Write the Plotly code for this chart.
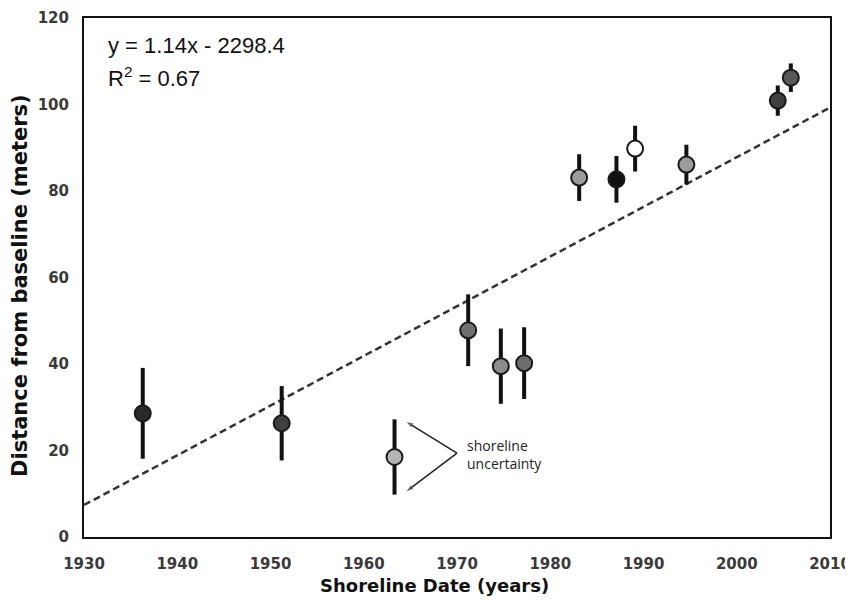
import plotly.graph_objects as go

# Data
years = [1936.3, 1951.2, 1963.3, 1971.2, 1974.7, 1977.2, 1983.1, 1987.1, 1989.1, 1994.6, 2004.4, 2005.8]
distance = [28.6, 26.3, 18.5, 47.8, 39.5, 40.2, 83.1, 82.7, 89.8, 86.1, 100.9, 106.2]
uncertainty = [10.5, 8.6, 8.7, 8.3, 8.7, 8.3, 5.4, 5.4, 5.3, 4.6, 3.5, 3.3]
marker_colors = ["#2b2b2b", "#404040", "#b4b4b4", "#707070", "#8c8c8c", "#6c6c6c",
                 "#9a9a9a", "#111111", "#ffffff", "#9c9c9c", "#404040", "#585858"]
trend_x = [1930, 2010]
trend_y = [7.4, 99.3]
x_ticks = [1930, 1940, 1950, 1960, 1970, 1980, 1990, 2000, 2010]
y_ticks = [0, 20, 40, 60, 80, 100, 120]

# callout geometry (vertex, upper end, lower end) in data units
callout_x = [1970.0, 1964.6, 1964.6]
callout_y = [19.4, 26.6, 10.6]

# The page body adds an 8px margin, so the figure is drawn 8px in from the corner.
OFF = 8
W, H = 853 - OFF, 608 - OFF
plot_left, plot_right, plot_top, plot_bottom = 84, 830, 18, 537
L = plot_left - OFF
R = W - (plot_right - OFF)
T = plot_top - OFF
B = H - (plot_bottom - OFF)
PW, PH = W - L - R, H - T - B


def px(x):
    return (x - OFF - L) / PW


def py(y):
    return 1 - (y - OFF - T) / PH


fig = go.Figure()

fig.add_trace(go.Scatter(
    x=trend_x, y=trend_y, mode="lines",
    line=dict(color="#333333", width=2.5, dash="7px,4px"),
    hoverinfo="skip", showlegend=False))

fig.add_trace(go.Scatter(
    x=years, y=distance, mode="markers",
    error_y=dict(type="data", array=uncertainty, visible=True,
                 color="#111111", thickness=4, width=0),
    marker=dict(size=16, color=marker_colors,
                line=dict(color="#1a1a1a", width=2)),
    showlegend=False))

# callout arrows
for i in (1, 2):
    fig.add_trace(go.Scatter(
        x=[callout_x[0], callout_x[i]], y=[callout_y[0], callout_y[i]],
        mode="lines+markers",
        line=dict(color="#222", width=1.5),
        marker=dict(symbol=["circle", "arrow"], size=[1, 7], color="#222",
                    angleref="previous", line=dict(width=0)),
        hoverinfo="skip", showlegend=False))

font_main = "Liberation Sans, Arial, sans-serif"
font_ticks = "DejaVu Sans, sans-serif"

# Equation text
fig.add_annotation(x=px(106), y=py(45), xref="paper", yref="paper",
                   text="y = 1.14x - 2298.4", showarrow=False,
                   xanchor="left", yanchor="middle",
                   font=dict(family=font_main, size=22, color="#111"))
fig.add_annotation(x=px(106), y=py(77), xref="paper", yref="paper",
                   text="R<sup>2</sup> = 0.67", showarrow=False,
                   xanchor="left", yanchor="middle",
                   font=dict(family=font_main, size=22, color="#111"))

fig.add_annotation(x=1970.9, y=19.0, xref="x", yref="y",
                   text="shoreline<br>uncertainty", showarrow=False,
                   xanchor="left", yanchor="middle", align="left",
                   font=dict(family="Open Sans, sans-serif", size=14, color="#222"))

# Axis titles as annotations for precise placement
fig.add_annotation(x=px(434), y=py(585),
                   xref="paper", yref="paper", text="Shoreline Date (years)",
                   showarrow=False, xanchor="center", yanchor="middle",
                   font=dict(family=font_ticks, size=18, color="#111", weight="bold"))
fig.add_annotation(x=px(20), y=py(286),
                   xref="paper", yref="paper", text="Distance from baseline (meters)",
                   showarrow=False, xanchor="center", yanchor="middle", textangle=-90,
                   font=dict(family=font_ticks, size=21, color="#111", weight="bold"))

fig.update_layout(
    width=W, height=H,
    margin=dict(l=L, r=R, t=T, b=B, autoexpand=False),
    paper_bgcolor="white", plot_bgcolor="white",
    font=dict(family=font_main),
)
fig.update_xaxes(
    range=[1930, 2010], tickvals=x_ticks, showgrid=False, zeroline=False,
    showline=True, linecolor="#111", linewidth=2, mirror=True, automargin=False,
    ticks="", ticklabelstandoff=12, ticklabeloverflow="allow",
    tickfont=dict(family=font_ticks, size=15, color="#3a3a3a", weight="bold"))
fig.update_yaxes(
    range=[0, 120], tickvals=y_ticks, showgrid=False, zeroline=False,
    showline=True, linecolor="#111", linewidth=2, mirror=True, automargin=False,
    ticks="", ticklabelstandoff=10, ticklabeloverflow="allow",
    tickfont=dict(family=font_ticks, size=15, color="#3a3a3a", weight="bold"))

fig.write_html("out.html")
